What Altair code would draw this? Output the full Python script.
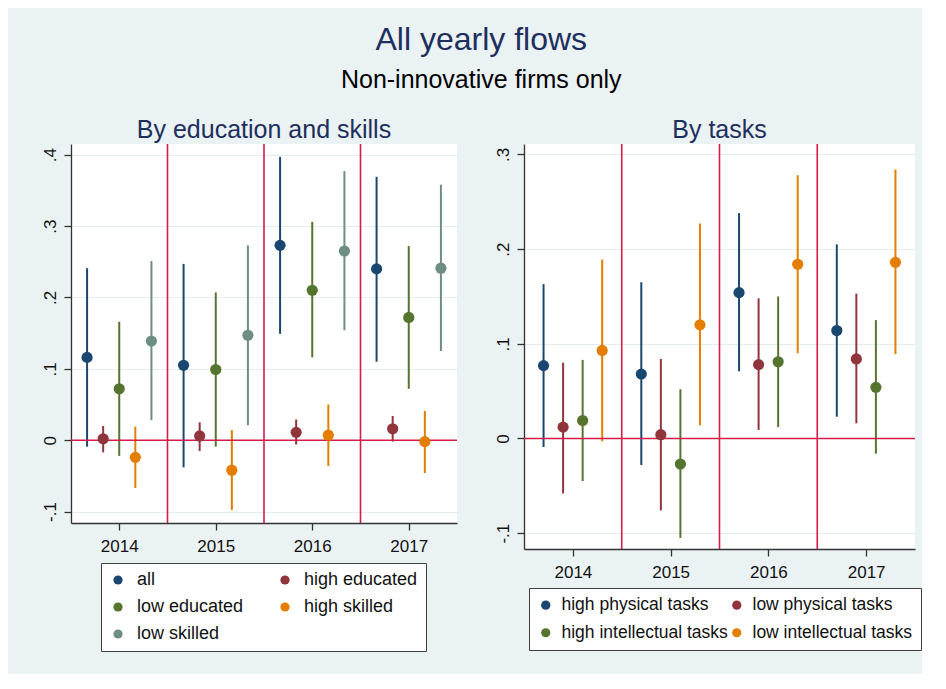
import altair as alt
import pandas as pd

# ---------------- data ----------------
years = [2014, 2015, 2016, 2017]

edu_groups = ["all", "high educated", "low educated", "high skilled", "low skilled"]
edu_colors = ["#1a476f", "#90353b", "#55752f", "#e37e00", "#6e8e84"]
# estimates per group (rows) and year (columns)
edu_est = [
    [0.116, 0.105, 0.273, 0.240],
    [0.002, 0.006, 0.011, 0.016],
    [0.072, 0.099, 0.210, 0.172],
    [-0.024, -0.042, 0.007, -0.002],
    [0.139, 0.147, 0.265, 0.241],
]
edu_lo = [
    [-0.009, -0.038, 0.149, 0.110],
    [-0.017, -0.015, -0.006, -0.002],
    [-0.022, -0.009, 0.116, 0.072],
    [-0.067, -0.098, -0.036, -0.046],
    [0.028, 0.021, 0.154, 0.125],
]
edu_hi = [
    [0.241, 0.247, 0.397, 0.369],
    [0.020, 0.025, 0.029, 0.034],
    [0.166, 0.207, 0.306, 0.272],
    [0.019, 0.014, 0.050, 0.041],
    [0.251, 0.273, 0.377, 0.358],
]

task_groups = ["high physical tasks", "low physical tasks",
               "high intellectual tasks", "low intellectual tasks"]
task_colors = ["#1a476f", "#90353b", "#55752f", "#e37e00"]
task_est = [
    [0.077, 0.068, 0.154, 0.114],
    [0.012, 0.004, 0.078, 0.084],
    [0.019, -0.027, 0.081, 0.054],
    [0.093, 0.120, 0.184, 0.186],
]
task_lo = [
    [-0.009, -0.028, 0.071, 0.023],
    [-0.058, -0.076, 0.009, 0.016],
    [-0.045, -0.105, 0.012, -0.016],
    [-0.003, 0.014, 0.090, 0.089],
]
task_hi = [
    [0.163, 0.165, 0.238, 0.205],
    [0.080, 0.084, 0.148, 0.153],
    [0.083, 0.052, 0.150, 0.125],
    [0.189, 0.227, 0.278, 0.284],
]

edu_ticks = [-0.1, 0, 0.1, 0.2, 0.3, 0.4]
task_ticks = [-0.1, 0, 0.1, 0.2, 0.3]

RED = "#d41c48"
FONT = "Liberation Sans"
TITLE_COLOR = "#1e2f5e"


def frame(groups, est, lo, hi):
    n = len(groups)
    rows = []
    for gi, g in enumerate(groups):
        for yi, yr in enumerate(years):
            # dodge each group inside its year slot
            rows.append({"group": g, "year": yr,
                         "xpos": yr + (gi + 1) / (n + 1) - 0.5,
                         "est": est[gi][yi], "lo": lo[gi][yi], "hi": hi[gi][yi]})
    return pd.DataFrame(rows)


LABEL_EXPR = ("datum.value == 0 ? '0' : (datum.value < 0 ? '-' : '') + "
              "substring(format(abs(datum.value), '.1f'), 1)")


def panel(df, groups, colors, title, ydomain, yticks, width, height, legend):
    xscale = alt.Scale(domain=[years[0] - 0.5, years[-1] + 0.5], nice=False, zero=False)
    xaxis = alt.Axis(title=None, labelAngle=0, grid=False, values=years, format="d",
                     labelPadding=8)
    yscale = alt.Scale(domain=ydomain, nice=False, zero=False)
    yaxis = alt.Axis(title=None, values=yticks, labelExpr=LABEL_EXPR,
                     labelAngle=270, grid=True)
    cscale = alt.Scale(domain=groups, range=colors)

    base = alt.Chart(df)
    bars = base.mark_rule(strokeWidth=2).encode(
        x=alt.X("xpos:Q", scale=xscale, axis=xaxis),
        y=alt.Y("lo:Q", scale=yscale, axis=yaxis),
        y2="hi:Q",
        color=alt.Color("group:N", sort=groups, scale=cscale, legend=legend),
    )
    sep = pd.DataFrame({"year": years[:-1]})
    vlines = alt.Chart(sep).transform_calculate(
        sx="datum.year + 0.5"
    ).mark_rule(color=RED, strokeWidth=1.6).encode(
        x=alt.X("sx:Q", scale=xscale, axis=xaxis))
    hline = alt.Chart(pd.DataFrame({"v": [0]})).mark_rule(
        color=RED, strokeWidth=1.6
    ).encode(y=alt.Y("v:Q", scale=yscale, axis=yaxis))
    pts = base.mark_circle(size=125, opacity=1).encode(
        x=alt.X("xpos:Q", scale=xscale, axis=xaxis),
        y=alt.Y("est:Q", scale=yscale, axis=yaxis),
        color=alt.Color("group:N", sort=groups, scale=cscale, legend=legend),
    )
    return alt.layer(bars, vlines, hline, pts).properties(
        width=width, height=height,
        title=alt.TitleParams(title, fontSize=25, font=FONT, color=TITLE_COLOR,
                              fontWeight="normal", offset=0, anchor="middle"),
    )


def make_legend(colpad, lx, ly, fs, off):
    return alt.Legend(
        title=None, columns=2, direction="horizontal", orient="none",
        legendX=lx, legendY=ly,
        columnPadding=colpad, rowPadding=9, symbolType="circle",
        symbolSize=85, symbolStrokeWidth=0, labelFontSize=fs,
        labelFont=FONT, labelColor="#111111", labelOffset=off,
        padding=8, strokeColor="#404040", fillColor="white",
        labelLimit=400,
    )


left = panel(frame(edu_groups, edu_est, edu_lo, edu_hi), edu_groups, edu_colors,
             "By education and skills", [-0.116, 0.415], edu_ticks, 386, 379,
             make_legend(32, 30, 419, 18, 10))
right = panel(frame(task_groups, task_est, task_lo, task_hi), task_groups, task_colors,
              "By tasks", [-0.1167, 0.311], task_ticks, 391, 405,
              make_legend(0, 5, 444, 17.5, 7))

chart = alt.hconcat(left, right, spacing=36).resolve_scale(
    color="independent", x="independent", y="independent"
).resolve_legend(color="independent").properties(
    title=alt.TitleParams("All yearly flows", subtitle="Non-innovative firms only",
                          fontSize=32, font=FONT, color=TITLE_COLOR, fontWeight="normal",
                          subtitleFontSize=25, subtitleFont=FONT, subtitleColor="black",
                          subtitlePadding=11, anchor="middle", offset=24),
    padding={"left": 33, "top": 16, "right": 0, "bottom": 22},
    background="#eaf2f3",
).configure_view(
    stroke=None, fill="white"
).configure_axis(
    labelFont=FONT, labelFontSize=17, labelColor="#111111",
    domainColor="#333333", domainWidth=1.3, tickColor="#333333", tickWidth=1.3,
    tickSize=7, labelPadding=5, gridColor="#e3ecef", gridWidth=1.2,
)

chart.save("out.html", embed_options={"renderer": "svg", "actions": False})
